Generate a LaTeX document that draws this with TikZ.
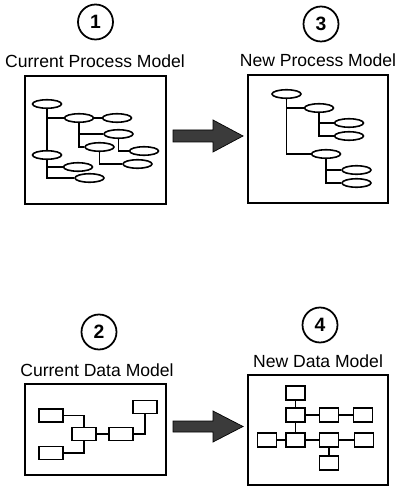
\documentclass[tikz,border=0pt]{standalone}
\usepackage{fontspec}
\setmainfont{Liberation Sans}
\usetikzlibrary{shapes.geometric}
\begin{document}
\begin{tikzpicture}[x=0.02cm,y=-0.02cm,every node/.style={font=\fontsize{10}{12}\selectfont},
  num/.style={draw,circle,line width=1pt,minimum size=0.7cm,inner sep=0pt,font=\fontsize{11}{13}\selectfont\bfseries},
  pane/.style={draw,line width=1pt},
  proc/.style={draw,ellipse,line width=0.9pt,minimum width=0.58cm,minimum height=0.17cm,inner sep=0pt},
  ent/.style={draw,line width=0.9pt,minimum width=0.48cm,minimum height=0.26cm,inner sep=0pt},
  sq/.style={draw,line width=0.9pt,minimum width=0.38cm,minimum height=0.27cm,inner sep=0pt},
  link/.style={line width=0.9pt},
  fat/.style={draw=black,fill=black!77,line width=0.4pt}]
\useasboundingbox (0,0) rectangle (400,489);
% headings
\node[num] (c1) at (95.5,22) {1};
\node[num] (c3) at (321,24) {3};
\node[num] (c2) at (99,332) {2};
\node[num] (c4) at (320,325) {4};
\node (t1) at (95,61) {Current Process Model};
\node (t3) at (318,60) {New Process Model};
\node (t2) at (97,370) {Current Data Model};
\node (t4) at (318,361) {New Data Model};
% frames
\draw[pane] (25,76) rectangle (166,204);
\draw[pane] (248,75) rectangle (388,203);
\draw[pane] (25,384) rectangle (166,475);
\draw[pane] (248,375) rectangle (388,485);
% current process model
\node[proc] (e1) at (47,104) {};
\node[proc] (e2) at (79,118) {};
\node[proc] (e3) at (117,118) {};
\node[proc] (e4) at (118.5,134) {};
\node[proc] (e5) at (99.5,147) {};
\node[proc] (e6) at (144,151) {};
\node[proc] (e7) at (47,155) {};
\node[proc] (e8) at (137.5,164) {};
\node[proc] (e9) at (78,167) {};
\node[proc] (e10) at (89.5,178) {};
\draw[link] (e1) -- (e7);
\draw[link] (e1.south) |- (e2.west);
\draw[link] (e2) -- (e3);
\draw[link] (e2.south) |- (e4.west);
\draw[link] (e2.south) |- (e5.west);
\draw[link] (e4.south) |- (e6.west);
\draw[link] (e5.south) |- (e8.west);
\draw[link] (e7.south) |- (e9.west);
\draw[link] (e7.south) |- (e10.west);
% new process model
\node[proc] (f1) at (286.5,94) {};
\node[proc] (f2) at (319,108) {};
\node[proc] (f3) at (349,123) {};
\node[proc] (f4) at (349,136) {};
\node[proc] (f5) at (326,154) {};
\node[proc] (f6) at (356.5,170) {};
\node[proc] (f7) at (356.5,183) {};
\draw[link] (f1.south) |- (f2.west);
\draw[link] (f1.south) |- (f5.west);
\draw[link] (f2.south) |- (f3.west);
\draw[link] (f2.south) |- (f4.west);
\draw[link] (f5.south) |- (f6.west);
\draw[link] (f5.south) |- (f7.west);
% current data model
\node[ent] (r1) at (51,415.5) {};
\node[ent] (r2) at (51,453) {};
\node[ent] (r3) at (84,434) {};
\node[ent] (r4) at (121,434) {};
\node[ent] (r5) at (145,407) {};
\draw[link] (r1.east) -| (r3.north);
\draw[link] (r2.east) -| (r3.south);
\draw[link] (r3) -- (r4);
\draw[link] (r4.east) -| (r5.south);
% new data model
\node[sq] (s1) at (295.5,393) {};
\node[sq] (s2) at (295.5,415) {};
\node[sq] (s3) at (329,415) {};
\node[sq] (s4) at (363,415) {};
\node[sq] (s5) at (267,440) {};
\node[sq] (s6) at (295.5,440) {};
\node[sq] (s7) at (329,440) {};
\node[sq] (s8) at (364,440) {};
\node[sq] (s9) at (329,463) {};
\draw[link] (s1) -- (s2);
\draw[link] (s2) -- (s3);
\draw[link] (s3) -- (s4);
\draw[link] (s2) -- (s6);
\draw[link] (s5) -- (s6);
\draw[link] (s6) -- (s7);
\draw[link] (s7) -- (s8);
\draw[link] (s7) -- (s9);
% big arrows
\draw[fat] (173,130) -- (213,130) -- (213,120) -- (243,136) -- (213,152) -- (213,142) -- (173,142) -- cycle;
\draw[fat] (173,421) -- (213,421) -- (213,411) -- (243,426.5) -- (213,442) -- (213,432) -- (173,432) -- cycle;
\end{tikzpicture}
\end{document}
